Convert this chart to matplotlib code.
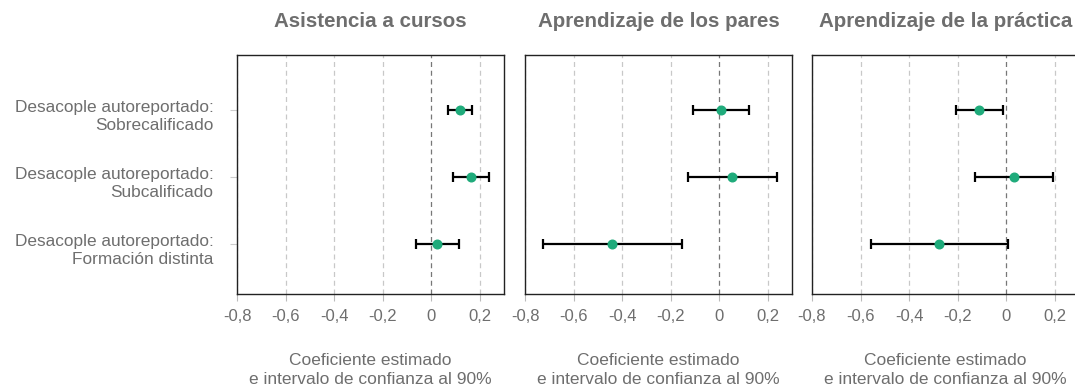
import numpy as np
import matplotlib
matplotlib.use("Agg")
import matplotlib.pyplot as plt
import matplotlib.transforms as mtransforms

plt.rcParams['font.family'] = ['Liberation Sans', 'DejaVu Sans']

# Datos
categorias = ["Desacople autoreportado:\nSobrecalificado",
              "Desacople autoreportado:\nSubcalificado",
              "Desacople autoreportado:\nFormación distinta"]
paneles = ["Asistencia a cursos", "Aprendizaje de los pares", "Aprendizaje de la práctica"]

coef_cursos = [0.12, 0.163, 0.023]
inf_cursos = [0.068, 0.088, -0.063]
sup_cursos = [0.168, 0.239, 0.115]

coef_pares = [0.007, 0.052, -0.44]
inf_pares = [-0.108, -0.130, -0.727]
sup_pares = [0.122, 0.238, -0.153]

coef_practica = [-0.110, 0.032, -0.277]
inf_practica = [-0.206, -0.130, -0.558]
sup_practica = [-0.012, 0.194, 0.009]

ticks_x = [-0.8, -0.6, -0.4, -0.2, 0, 0.2]
etiquetas_x = ["-0,8", "-0,6", "-0,4", "-0,2", "0", "0,2"]

gris = '#6e6e6e'
verde = '#1fab7b'

fig = plt.figure(figsize=(10.75, 3.88), dpi=100)

izquierdas = [237, 525, 812]
ancho = 267
y_pos = np.array([3, 2, 1])

datos = [(coef_cursos, inf_cursos, sup_cursos),
         (coef_pares, inf_pares, sup_pares),
         (coef_practica, inf_practica, sup_practica)]

for i, (titulo, (coef, inf, sup)) in enumerate(zip(paneles, datos)):
    ax = fig.add_axes([izquierdas[i] / 1075, 1 - 294 / 388, ancho / 1075, (294 - 55) / 388])
    coef = np.array(coef)
    err = [coef - np.array(inf), np.array(sup) - coef]

    for t in ticks_x:
        ax.axvline(t, color='#777777' if t == 0 else '#c8c8c8', lw=0.9,
                   linestyle=(0, (4, 3)), zorder=0)

    ax.errorbar(coef, y_pos, xerr=err, fmt='none', ecolor='black', elinewidth=1.6,
                capsize=3.5, capthick=1.6, zorder=2)
    ax.plot(coef, y_pos, 'o', color=verde, markersize=6.2, zorder=3)

    ax.set_xlim(-0.8, 0.3)
    ax.set_ylim(0.25, 3.82)
    ax.set_xticks(ticks_x)
    ax.set_xticklabels(etiquetas_x, fontsize=12, color=gris)
    ax.tick_params(axis='x', length=5, color='#bbbbbb', pad=6)

    if i == 0:
        ax.set_yticks(y_pos)
        ax.set_yticklabels(categorias, fontsize=12.4, color=gris, ha='right')
        ax.tick_params(axis='y', length=5, color='#cccccc', pad=12)
        offset = mtransforms.ScaledTranslation(0, -4 / 100, fig.dpi_scale_trans)
        for lab in ax.get_yticklabels():
            lab.set_transform(lab.get_transform() + offset)
    else:
        ax.set_yticks([])

    for s in ax.spines.values():
        s.set_color('#222222')
        s.set_linewidth(1.0)

    ax.set_xlabel("Coeficiente estimado\ne intervalo de confianza al 90%",
                  fontsize=12.5, color=gris, labelpad=21, linespacing=1.3)

    cx = (izquierdas[i] + ancho / 2) / 1075
    fig.text(cx, 1 - 27 / 388, titulo, ha='center', va='baseline',
             fontsize=14.8, fontweight='bold', color=gris)

fig.savefig("out.png", dpi=100)
